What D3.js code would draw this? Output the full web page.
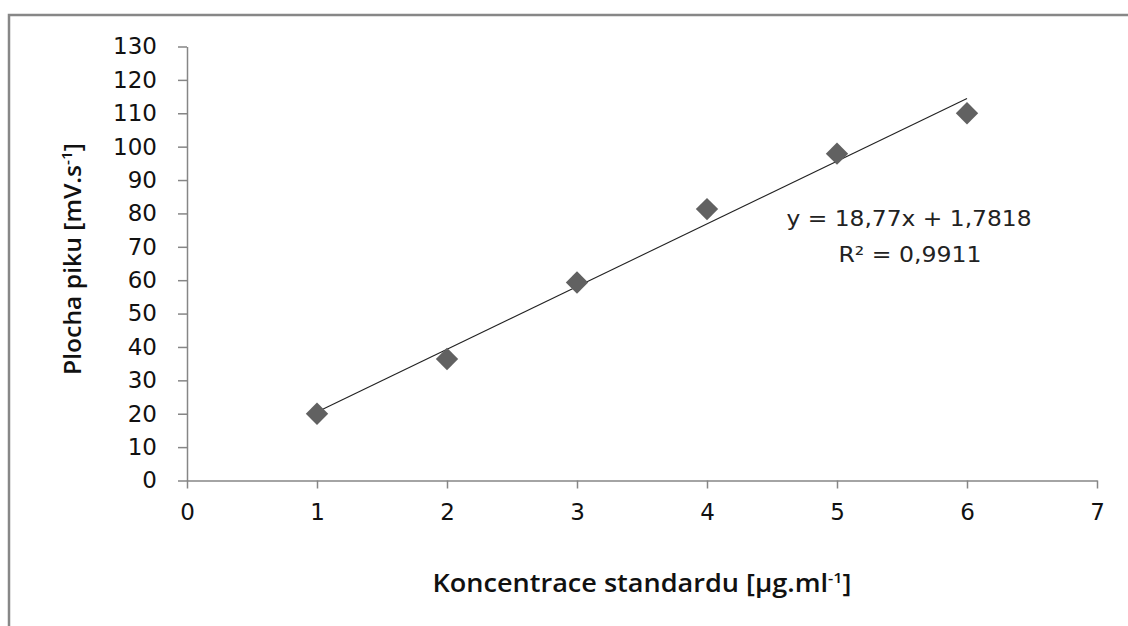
<!DOCTYPE html>
<html>
<head>
<meta charset="utf-8">
<script src="https://cdn.jsdelivr.net/npm/d3@7"></script>
<style>
  html, body { margin: 0; padding: 0; background: #fff; }
  svg { display: block; }
</style>
</head>
<body>
<svg id="chart" width="1128" height="626"></svg>
<script>
// Calibration data: standard concentration vs. peak area
const concentrations = [1, 2, 3, 4, 5, 6];
const peakAreas = [20, 36.4, 59.3, 81.3, 97.9, 110];

// Linear fit reported for the calibration
const fitSlope = 18.77;
const fitIntercept = 1.7818;
const fitLabel = "y = 18,77x + 1,7818";
const r2Label = "R\u00B2 = 0,9911";

const xTicks = [0, 1, 2, 3, 4, 5, 6, 7];
const yTicks = [0, 10, 20, 30, 40, 50, 60, 70, 80, 90, 100, 110, 120, 130];

const svg = d3.select("#chart");
const W = 1128, H = 626;

// Chart frame (top and left edges visible)
svg.append("path")
  .attr("d", `M9,${H + 5} V15 H${W + 5}`)
  .attr("fill", "none")
  .attr("stroke", "#878787")
  .attr("stroke-width", 2.5);

const x = d3.scaleLinear().domain([0, 7]).range([187, 1097]);
const y = d3.scaleLinear().domain([0, 130]).range([480.5, 46.5]);

const axisColor = "#868686";
const tickFont = "'DejaVu Sans', sans-serif";

// Y axis
const gy = svg.append("g")
  .attr("transform", `translate(${x(0)},0)`)
  .call(d3.axisLeft(y).tickValues(yTicks).tickFormat(d3.format("d"))
    .tickSize(9).tickPadding(21).tickSizeOuter(0));
gy.select(".domain").attr("stroke", axisColor).attr("stroke-width", 1.5);
gy.selectAll(".tick line").attr("stroke", axisColor).attr("stroke-width", 1.5);
gy.selectAll(".tick text")
  .attr("font-family", tickFont)
  .attr("font-size", 23)
  .attr("fill", "#111");

// X axis
const gx = svg.append("g")
  .attr("transform", `translate(0,${y(0)})`)
  .call(d3.axisBottom(x).tickValues(xTicks).tickFormat(d3.format("d"))
    .tickSize(8).tickPadding(15).tickSizeOuter(0));
gx.select(".domain").attr("stroke", axisColor).attr("stroke-width", 1.5);
gx.selectAll(".tick line").attr("stroke", axisColor).attr("stroke-width", 1.5);
gx.selectAll(".tick text")
  .attr("font-family", tickFont)
  .attr("font-size", 23)
  .attr("fill", "#111");

// Trend line across the measured range
const x0 = d3.min(concentrations), x1 = d3.max(concentrations);
svg.append("line")
  .attr("x1", x(x0)).attr("y1", y(fitSlope * x0 + fitIntercept))
  .attr("x2", x(x1)).attr("y2", y(fitSlope * x1 + fitIntercept))
  .attr("stroke", "#222")
  .attr("stroke-width", 1.1);

// Diamond markers
const diamond = d3.symbol().type(d3.symbolSquare).size(250);
svg.append("g").selectAll("path")
  .data(concentrations.map((c, i) => [c, peakAreas[i]]))
  .join("path")
  .attr("d", diamond)
  .attr("transform", d => `translate(${x(d[0])},${y(d[1])}) rotate(45)`)
  .attr("fill", "#616161");

// Regression annotation
const annot = svg.append("g")
  .attr("font-family", tickFont)
  .attr("font-size", 22)
  .attr("fill", "#222")
  .attr("text-anchor", "middle");
annot.append("text").attr("x", 909).attr("y", 226)
  .attr("textLength", 245).attr("lengthAdjust", "spacingAndGlyphs")
  .text(fitLabel);
annot.append("text").attr("x", 910).attr("y", 262)
  .attr("textLength", 143).attr("lengthAdjust", "spacingAndGlyphs")
  .text(r2Label);

// Axis titles
const xTitle = svg.append("text")
  .attr("x", 642).attr("y", 592)
  .attr("text-anchor", "middle")
  .attr("textLength", 419).attr("lengthAdjust", "spacingAndGlyphs")
  .attr("font-family", "'Open Sans', sans-serif")
  .attr("font-weight", 600)
  .attr("font-size", 25)
  .attr("fill", "#111");
xTitle.append("tspan").text("Koncentrace standardu [\u00B5g.ml");
xTitle.append("tspan").attr("dy", -9).attr("font-size", 15).text("-1");
xTitle.append("tspan").attr("dy", 9).text("]");

const yTitle = svg.append("text")
  .attr("transform", "translate(81,259) rotate(-90)")
  .attr("text-anchor", "middle")
  .attr("textLength", 232).attr("lengthAdjust", "spacingAndGlyphs")
  .attr("font-family", "'Open Sans', sans-serif")
  .attr("font-weight", 600)
  .attr("font-size", 24)
  .attr("fill", "#111");
yTitle.append("tspan").text("Plocha piku [mV.s");
yTitle.append("tspan").attr("dy", -9).attr("font-size", 15).text("-1");
yTitle.append("tspan").attr("dy", 9).text("]");
</script>
</body>
</html>
